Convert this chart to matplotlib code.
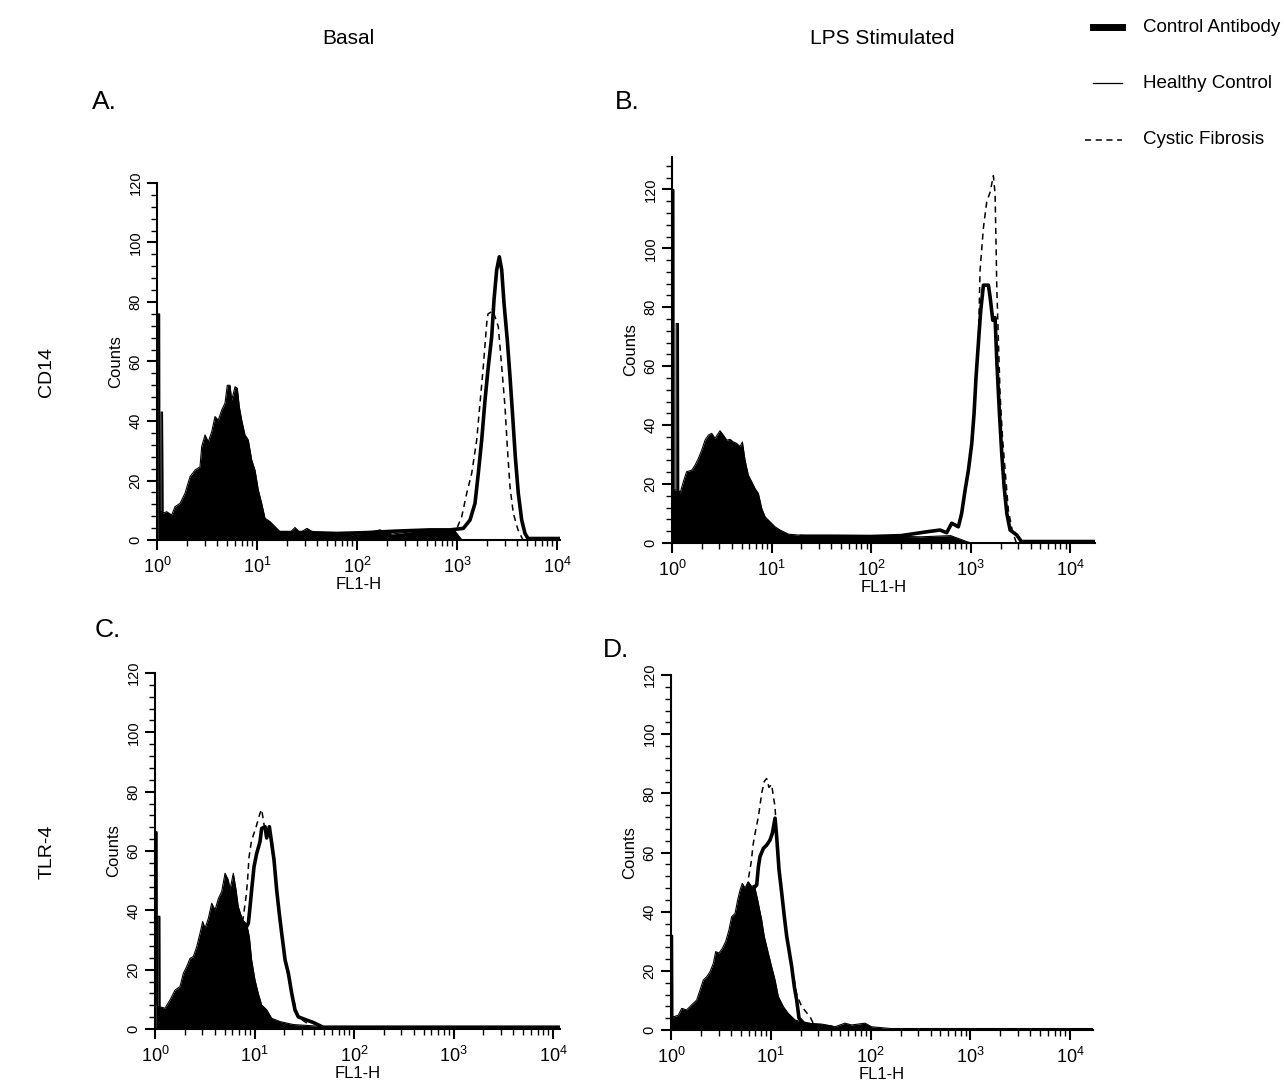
import numpy as np
import matplotlib
matplotlib.use("Agg")
import matplotlib.pyplot as plt
from matplotlib.ticker import MultipleLocator, LogLocator, NullFormatter
from matplotlib.lines import Line2D

plt.rcParams['font.family'] = ['Liberation Sans', 'DejaVu Sans']
plt.rcParams['mathtext.fontset'] = 'custom'
plt.rcParams['mathtext.rm'] = 'Liberation Sans'
plt.rcParams['mathtext.default'] = 'rm'

# ---------------- data (FL1-H given as log10 values, counts) ----------------
# Panel A: CD14, basal
a_ctrl_log = [0.0, 0.012, 0.014, 0.026, 0.028, 0.04, 0.042, 0.055, 0.06, 0.097, 0.147, 0.18, 0.23,
              0.28, 0.33, 0.38, 0.43, 0.447, 0.48, 0.513, 0.547, 0.58, 0.613, 0.647, 0.68, 0.703,
              0.73, 0.747, 0.78, 0.803, 0.823, 0.847, 0.88, 0.913, 0.947, 0.98, 1.013, 1.047, 1.08,
              1.13, 1.18, 1.23, 1.33, 1.38, 1.43, 1.5, 1.57, 1.67, 1.8, 1.95, 2.1, 2.23, 2.35, 2.5,
              2.67, 2.8, 2.97, 3.05]
a_ctrl = [0, 0, 76, 76, 10, 10, 43, 43, 9, 9.5, 8.4, 11.2, 12.3,
          15.7, 21.3, 23.5, 24.6, 31.4, 35.3, 33, 36.4, 41.5, 40.3, 43.7, 46, 52,
          52, 47, 51.5, 51, 44.8, 40.3, 35.3, 33.6, 26.9, 23.5, 16.8, 12.3, 7.3,
          6.2, 4.5, 2.8, 2.5, 4.2, 2.5, 3.9, 2.5, 2, 2.2, 1.8, 2.4, 3.4, 2, 2.6,
          3.4, 3.2, 3.4, 0]
a_hc_log = [1.2, 1.5, 1.8, 2.1, 2.4, 2.73, 2.93, 3.063, 3.13, 3.18, 3.213, 3.247, 3.28, 3.313, 3.347,
            3.37, 3.397, 3.423, 3.447, 3.47, 3.503, 3.53, 3.557, 3.583, 3.613, 3.647, 3.68, 3.71, 3.9, 4.03]
a_hc = [2.5, 2.5, 2.2, 2.5, 3, 3.4, 3.4, 3.9, 6.7, 12.3, 22.4, 33.6, 47, 58.3, 68.3,
        80.7, 90.8, 95.2, 90.8, 79.6, 67.2, 54.9, 41.5, 28, 15.7, 6.7, 2.2, 0.5, 0.5, 0.5]
a_cf_log = [2.8, 2.9, 3.0, 3.047, 3.097, 3.147, 3.197, 3.23, 3.263, 3.297, 3.31, 3.36, 3.413, 3.447,
            3.48, 3.503, 3.53, 3.563, 3.61, 3.66]
a_cf = [3, 3, 4, 7.8, 15.7, 22.4, 33.6, 46, 58.3, 72.8, 76, 77, 71.7, 58.3,
        44.8, 31.4, 17.9, 9, 3.4, 0]

# Panel B: CD14, LPS stimulated
b_ctrl_log = [0.0, 0.002, 0.004, 0.018, 0.02, 0.04, 0.042, 0.065, 0.067, 0.08, 0.114, 0.147, 0.198,
              0.231, 0.265, 0.298, 0.332, 0.365, 0.399, 0.432, 0.482, 0.516, 0.55, 0.583, 0.616, 0.65,
              0.683, 0.707, 0.734, 0.767, 0.801, 0.834, 0.868, 0.901, 0.935, 0.985, 1.035, 1.085,
              1.17, 1.34, 1.61, 1.9, 2.2, 2.5, 2.8, 3.0]
b_ctrl = [0, 0, 120, 120, 18, 18, 74.5, 74.5, 18, 16.8, 20.8, 24.2, 24.7,
          26.4, 28.7, 31.5, 34.9, 36.6, 37.2, 35.5, 38.1, 36.6, 34.9, 35.2, 34.3, 33.8,
          32.7, 34.3, 28.1, 23, 20.8, 18.5, 16.8, 11.8, 8.9, 7.2, 5.5, 4.4,
          3, 2.5, 2.3, 2.1, 2.3, 2.1, 2.5, 0]
b_hc_log = [1.3, 1.6, 2.0, 2.3, 2.56, 2.693, 2.76, 2.81, 2.877, 2.91, 2.945, 2.978, 3.012, 3.035,
            3.055, 3.078, 3.102, 3.129, 3.179, 3.196, 3.223, 3.246, 3.263, 3.29, 3.313, 3.337,
            3.364, 3.397, 3.464, 3.51, 3.8, 4.25]
b_hc = [2.3, 2.3, 2.2, 2.5, 3.8, 4.4, 3.5, 6.7, 5.5, 10, 18, 24.7, 33.8, 44,
        56.4, 67.7, 79, 87.5, 87.5, 83.5, 75.6, 76.5, 62, 44, 30.4, 19.1,
        10, 4.4, 2.7, 0.5, 0.5, 0.5]
b_cf_log = [2.9, 2.945, 2.978, 3.012, 3.035, 3.055, 3.078, 3.095, 3.129, 3.163, 3.196, 3.229, 3.246,
            3.256, 3.263, 3.296, 3.32, 3.347, 3.38, 3.42, 3.46]
b_cf = [9, 17, 24, 33, 43, 55, 67, 92.5, 107, 116, 119, 124.7, 118.5,
        101, 87, 50.7, 36, 24.7, 11, 4, 0]

# Panel C: TLR-4, basal
c_ctrl_log = [0.0, 0.008, 0.01, 0.02, 0.022, 0.03, 0.032, 0.048, 0.05, 0.1, 0.151, 0.201, 0.251,
              0.285, 0.318, 0.352, 0.385, 0.419, 0.452, 0.479, 0.503, 0.536, 0.57, 0.603, 0.637,
              0.67, 0.704, 0.737, 0.754, 0.787, 0.814, 0.837, 0.881, 0.921, 0.948, 0.971, 1.005,
              1.038, 1.072, 1.122, 1.173, 1.256, 1.39, 1.62, 1.8]
c_ctrl = [0, 0, 66.5, 66.5, 8, 8, 38, 38, 7.5, 7, 9.8, 13.1, 14.3,
          18.8, 21, 23.8, 24.4, 27.7, 32.2, 36.2, 34, 37.3, 42.4, 40.1, 44,
          46.3, 52.5, 50.2, 47, 52.5, 47, 41.2, 36.7, 35.4, 31.1, 23.3, 16.5,
          12, 8.1, 6.5, 3.6, 2.5, 1.5, 1, 0]
c_hc_log = [0.85, 0.938, 0.955, 0.971, 0.995, 1.022, 1.055, 1.072, 1.106, 1.122, 1.149, 1.173, 1.196,
            1.223, 1.249, 1.273, 1.307, 1.34, 1.374, 1.407, 1.44, 1.525, 1.59, 1.69, 2.5, 4.07]
c_hc = [30, 35.6, 41.2, 46.8, 54.7, 59.2, 63.1, 67.6, 68.2, 64.4, 68.2, 62.6, 57,
        46.8, 38.9, 32.3, 23.3, 18.8, 12, 6.4, 4.1, 3, 2.2, 0.6, 0.6, 0.6]
c_cf_log = [0.88, 0.915, 0.93, 0.945, 0.97, 1.015, 1.055, 1.072, 1.1, 1.149, 1.196, 1.249, 1.307,
            1.374, 1.44, 1.525]
c_cf = [36, 44.6, 50, 58, 63.5, 68, 72.7, 74, 68, 66, 56, 38, 23,
        12, 4, 2]

# Panel D: TLR-4, LPS stimulated
d_ctrl_log = [0.0, 0.004, 0.006, 0.016, 0.018, 0.03, 0.073, 0.107, 0.157, 0.207, 0.257, 0.291, 0.324,
              0.358, 0.391, 0.424, 0.448, 0.481, 0.515, 0.548, 0.581, 0.608, 0.642, 0.668, 0.692,
              0.715, 0.742, 0.775, 0.809, 0.835, 0.869, 0.909, 0.935, 0.976, 1.009, 1.043, 1.076,
              1.126, 1.176, 1.243, 1.344, 1.51, 1.644, 1.744, 1.81, 1.945, 2.01, 2.2, 4.23]
d_ctrl = [0, 0, 32, 32, 4.5, 4.5, 5, 7.3, 6.8, 8.5, 10.1, 13.5, 16.9,
          18, 19.7, 22.5, 26.5, 26, 27.6, 29.9, 33.8, 38.3, 39.4, 43.9, 47.3,
          49.6, 48, 50.1, 48.5, 49, 43.9, 37.2, 31.6, 25.9, 21.4, 16.9, 11.3,
          7.9, 5.6, 3.4, 2.3, 2, 1.1, 2.3, 1.7, 2.3, 1.1, 0.5, 0.5]
d_hc_log = [0.8, 0.859, 0.876, 0.892, 0.926, 0.959, 0.992, 1.016, 1.043, 1.059, 1.083, 1.11, 1.136,
            1.16, 1.183, 1.21, 1.236, 1.26, 1.283, 1.33, 1.41, 1.6]
d_hc = [47, 49, 55.2, 58.6, 61.4, 62.5, 64.2, 66.5, 71.6, 65.4, 54.1, 46.2, 38.3,
        31.6, 27, 21.4, 14.6, 10.1, 4, 2.3, 1.7, 1]
d_cf_log = [0.76, 0.802, 0.825, 0.849, 0.876, 0.909, 0.935, 0.959, 0.982, 1.009, 1.026, 1.043, 1.059,
            1.083, 1.11, 1.16, 1.21, 1.26, 1.31, 1.393, 1.43, 1.5]
d_cf = [48, 56.4, 63.1, 67.6, 72.1, 80, 84, 85, 82, 83, 78.9, 75.5, 65,
        54, 46, 32, 22, 12, 7.9, 4.5, 2, 1]

x_ticks = [1, 10, 100, 1000, 10000]
x_ticklabels = ['$10^{0}$', '$10^{1}$', '$10^{2}$', '$10^{3}$', '$10^{4}$']
y_ticks = [0, 20, 40, 60, 80, 100, 120]
col_titles = ['Basal', 'LPS Stimulated']
row_titles = ['CD14', 'TLR-4']
panel_letters = ['A.', 'B.', 'C.', 'D.']
legend_labels = ['Control Antibody', 'Healthy Control', 'Cystic Fibrosis']

# ---------------- figure ----------------
W, H = 1284, 1083
fig = plt.figure(figsize=(W / 100, H / 100), dpi=100)
fig.patch.set_facecolor('white')


def rect(left, top, right, bottom):
    return [left / W, 1 - bottom / H, (right - left) / W, (bottom - top) / H]


panels = [
    (rect(157, 183, 560, 540), 4.03, 120, a_ctrl_log, a_ctrl, a_hc_log, a_hc, a_cf_log, a_cf),
    (rect(672, 157, 1095, 543), 4.25, 131, b_ctrl_log, b_ctrl, b_hc_log, b_hc, b_cf_log, b_cf),
    (rect(155, 673, 560, 1029), 4.07, 120, c_ctrl_log, c_ctrl, c_hc_log, c_hc, c_cf_log, c_cf),
    (rect(671, 675, 1093, 1030), 4.23, 120, d_ctrl_log, d_ctrl, d_hc_log, d_hc, d_cf_log, d_cf),
]

for (r, xmax_log, ymax, cl, cv, hl, hv, fl, fv) in panels:
    ax = fig.add_axes(r)
    ax.set_xscale('log')
    ax.set_xlim(1, 10 ** xmax_log)
    ax.set_ylim(0, ymax)
    xc = 10 ** np.array(cl)
    ax.fill_between(xc, cv, 0, color='black', lw=0)
    ax.plot(xc, cv, color='black', lw=0.8)
    ax.plot(10 ** np.array(fl), fv, color='black', lw=1.1, linestyle=(0, (4, 3)))
    ax.plot(10 ** np.array(hl), hv, color='black', lw=2.6)
    for s in ['top', 'right']:
        ax.spines[s].set_visible(False)
    for s in ['left', 'bottom']:
        ax.spines[s].set_linewidth(1.5)
    ax.set_xticks(x_ticks)
    ax.set_xticklabels(x_ticklabels, fontsize=13)
    ax.xaxis.set_minor_locator(LogLocator(base=10, subs=np.arange(2, 10)))
    ax.xaxis.set_minor_formatter(NullFormatter())
    ax.set_yticks(y_ticks)
    ax.set_yticklabels([str(v) for v in y_ticks], fontsize=10.5, rotation=90, va='center')
    ax.yaxis.set_minor_locator(MultipleLocator(4))
    ax.tick_params(which='major', direction='out', length=7, width=1.5)
    ax.tick_params(axis='x', which='major', pad=5)
    ax.tick_params(which='minor', direction='out', length=4, width=1.0)
    ax.set_xlabel('FL1-H', fontsize=12, labelpad=0)
    ax.set_ylabel('Counts', fontsize=12, labelpad=4)

# column / row titles and panel letters
fig.text(348 / W, 1 - 38 / H, col_titles[0], fontsize=15, ha='center', va='center')
fig.text(882 / W, 1 - 38 / H, col_titles[1], fontsize=15, ha='center', va='center')
fig.text(47 / W, 1 - 372 / H, row_titles[0], fontsize=14, ha='center', va='center', rotation=90)
fig.text(47 / W, 1 - 852 / H, row_titles[1], fontsize=14, ha='center', va='center', rotation=90)
for lbl, (px, py) in zip(panel_letters, [(104, 102), (627, 102), (108, 630), (616, 650)]):
    fig.text(px / W, 1 - py / H, lbl, fontsize=19, ha='center', va='center')

# legend (manual)
leg_y = [27, 83, 140]
fig.add_artist(Line2D([1093 / W, 1122 / W], [1 - leg_y[0] / H] * 2, color='black', lw=5,
                      transform=fig.transFigure))
fig.add_artist(Line2D([1093 / W, 1122 / W], [1 - leg_y[1] / H] * 2, color='black', lw=0.9,
                      transform=fig.transFigure))
fig.add_artist(Line2D([1085 / W, 1122 / W], [1 - leg_y[2] / H] * 2, color='black', lw=1.1,
                      linestyle=(0, (4, 3)), transform=fig.transFigure))
for lbl, yy in zip(legend_labels, leg_y):
    fig.text(1143 / W, 1 - yy / H, lbl, fontsize=13.5, ha='left', va='center')

fig.savefig('out.png', dpi=100, facecolor='white')
